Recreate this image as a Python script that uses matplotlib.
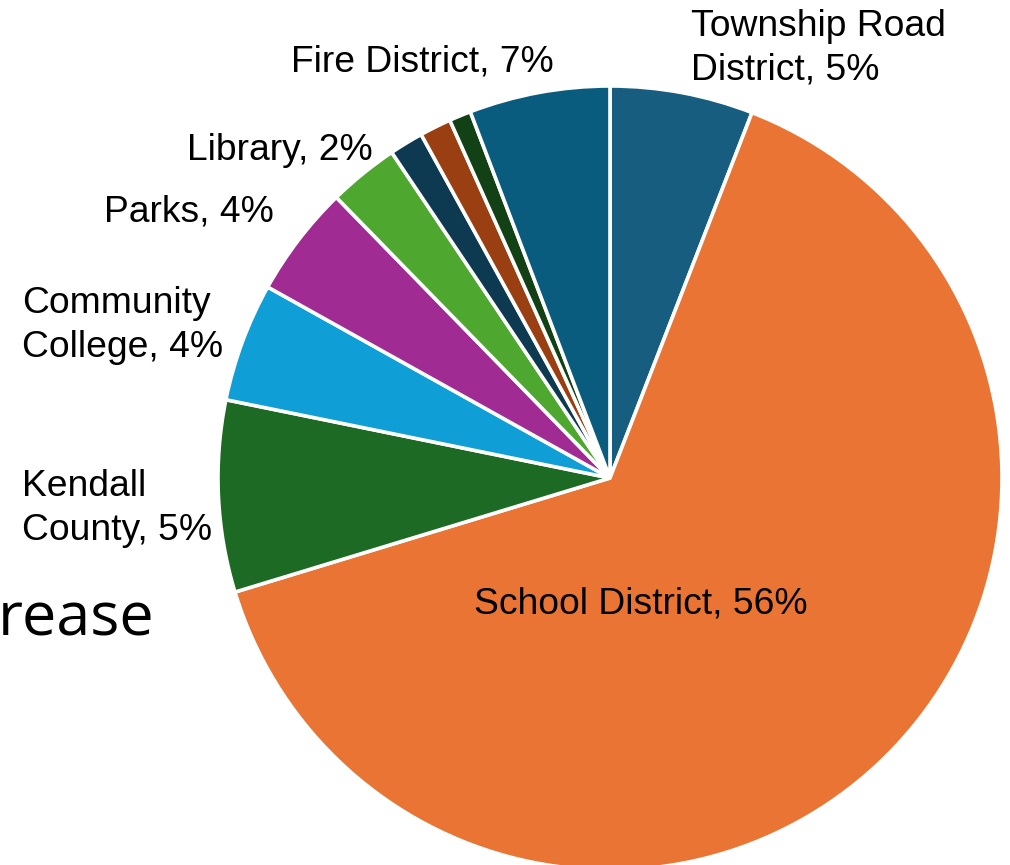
import numpy as np
import matplotlib.pyplot as plt

# slice shares (clockwise from 12 o'clock)
names = ["Township Road District", "School District", "Kendall County",
         "Community College", "Parks", "Library", "Other A", "Other B",
         "Other C", "Fire District"]
shares = [5.9, 64.4, 7.9, 4.9, 4.6, 2.9, 1.4, 1.3, 0.9, 5.8]
colors = ["#175d7f", "#e97434", "#1d6a25", "#0f9ed5", "#a02b93",
          "#4ea72e", "#0e3a51", "#9a3f12", "#124116", "#0a5c7e"]

# label texts shown on the chart
label_texts = ["Township Road\nDistrict, 5%", "School District, 56%",
               "Kendall\nCounty, 5%", "Community\nCollege, 4%", "Parks, 4%",
               "Library, 2%", "Fire District, 7%"]
# left x, baseline y of last line (pixels from top)
label_pos = [(691, 80), (474, 613), (22, 540), (22, 357), (104, 222),
             (187, 160), (291, 72)]

W, H = 1010, 865
fig = plt.figure(figsize=(W / 100, H / 100), dpi=100)
ax = fig.add_axes([0, 0, 1, 1])

ax.pie(shares, colors=colors, startangle=90, counterclock=False,
       center=(610, H - 478), radius=392,
       wedgeprops=dict(edgecolor="white", linewidth=2.6))
ax.set_xlim(0, W)
ax.set_ylim(0, H)
ax.set_aspect("auto")
ax.axis("off")

for txt, (x, y) in zip(label_texts, label_pos):
    ax.text(x, H - y, txt, ha="left", va="baseline", fontsize=26.8,
            family="Liberation Sans", color="black", linespacing=1.33)

# leftover slide title fragment
ax.text(-2, H - 635, "rease", ha="left", va="baseline", fontsize=44,
        family="Open Sans", color="black")

fig.savefig("out.png", dpi=100)
